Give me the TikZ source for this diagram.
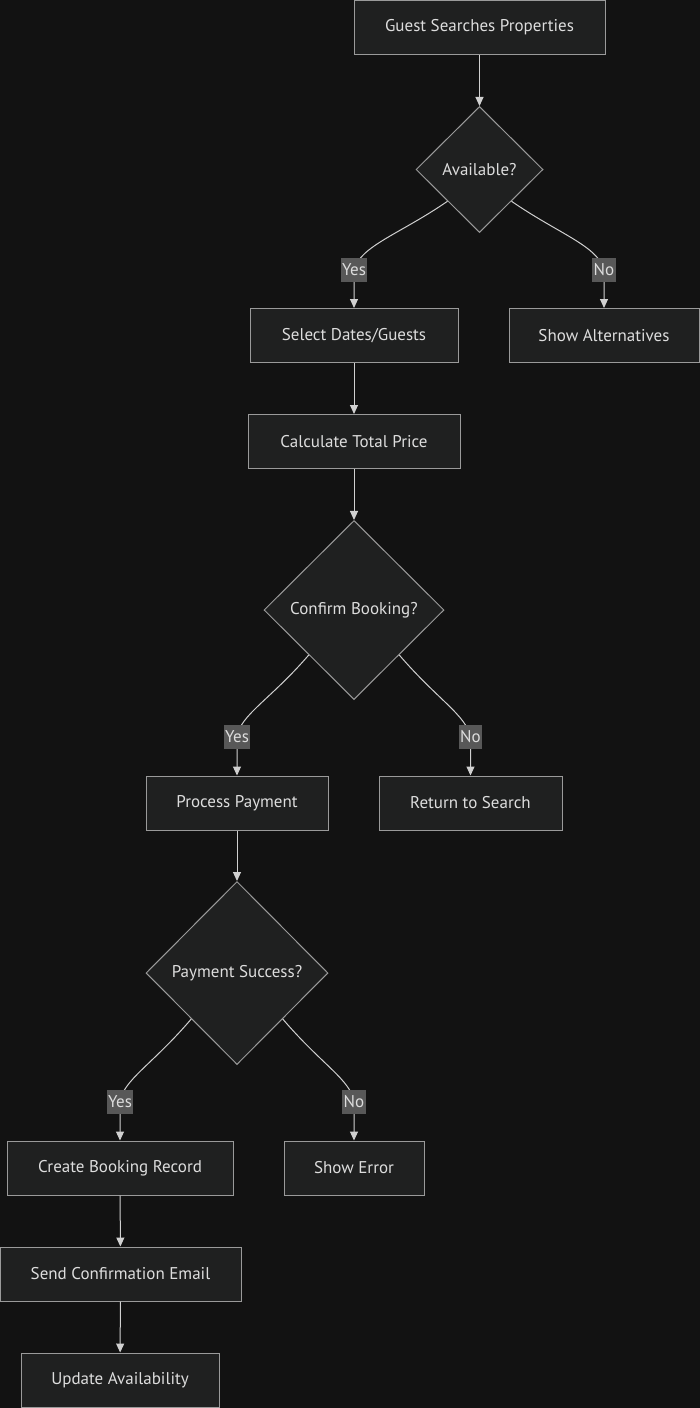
\documentclass[tikz,border=0pt]{standalone}
\usepackage{fontspec}
\setmainfont{PT Sans}
\usetikzlibrary{shapes.geometric,arrows.meta}
\definecolor{bg}{HTML}{121212}
\definecolor{nodefill}{HTML}{1F2020}
\definecolor{nodeborder}{HTML}{9A9A9A}
\definecolor{txt}{HTML}{DDDDDD}
\definecolor{edgec}{HTML}{D0D0D0}
\definecolor{lblbg}{HTML}{585858}
\tikzset{
  box/.style={draw=nodeborder, fill=nodefill, line width=1pt, inner sep=0pt, text=txt,
    font=\fontsize{17}{19}\selectfont, minimum height=54pt},
  dia/.style={diamond, draw=nodeborder, fill=nodefill, line width=1pt, inner sep=0pt, text=txt,
    font=\fontsize{17}{19}\selectfont},
  lbl/.style={fill=lblbg, text=txt, inner sep=1.5pt, font=\fontsize{17}{19}\selectfont,
    minimum height=24pt},
  edge/.style={draw=edgec, line width=1pt, -{Triangle[length=9pt,width=8pt]}},
}
\begin{document}
\begin{tikzpicture}[x=1pt,y=-1pt]
\fill[bg] (0,0) rectangle (700,1408);
\useasboundingbox (0,0) rectangle (700,1408);

\node[box, minimum width=251pt] (A) at (479.5,27.5) {Guest Searches Properties};
\node[dia, minimum width=127pt, minimum height=126pt] (B) at (479.5,169.5) {Available?};
\node[box, minimum width=208pt] (C) at (354,335.5) {Select Dates/Guests};
\node[box, minimum width=190pt] (D) at (604,335.5) {Show Alternatives};
\node[box, minimum width=212pt] (E) at (354,441.5) {Calculate Total Price};
\node[dia, minimum width=180pt, minimum height=179pt] (F) at (354,610) {Confirm Booking?};
\node[box, minimum width=182pt] (G) at (237,803) {Process Payment};
\node[box, minimum width=183pt] (H) at (470.5,803) {Return to Search};
\node[dia, minimum width=182pt, minimum height=183pt] (I) at (237,973) {Payment Success?};
\node[box, minimum width=226pt] (J) at (120,1168) {Create Booking Record};
\node[box, minimum width=140pt] (K) at (354,1168) {Show Error};
\node[box, minimum width=241pt] (L) at (120.5,1274) {Send Confirmation Email};
\node[box, minimum width=198pt] (M) at (120,1380) {Update Availability};

\coordinate (y1) at (354,270);
\coordinate (n1) at (604,270);
\coordinate (y2) at (237,737);
\coordinate (n2) at (470.5,737);
\coordinate (y3) at (120,1102);
\coordinate (n3) at (354,1102);

\draw[edge] (A) -- (B);
\draw[edge] (B.south west) .. controls (400,234) and (360,246) .. (y1) -- (C);
\draw[edge] (B.south east) .. controls (559,234) and (598,246) .. (n1) -- (D);
\draw[edge] (C) -- (E);
\draw[edge] (E) -- (F);
\draw[edge] (F.south west) .. controls (270,700) and (240,715) .. (y2) -- (G);
\draw[edge] (F.south east) .. controls (438,700) and (466,715) .. (n2) -- (H);
\draw[edge] (G) -- (I);
\draw[edge] (I.south west) .. controls (152,1065) and (123,1080) .. (y3) -- (J);
\draw[edge] (I.south east) .. controls (322,1065) and (351,1080) .. (n3) -- (K);
\draw[edge] (J) -- (L);
\draw[edge] (L) -- (M);

\node[lbl] (ly1) at (y1) {Yes};
\node[lbl] (ln1) at (n1) {No};
\node[lbl] (ly2) at (y2) {Yes};
\node[lbl] (ln2) at (n2) {No};
\node[lbl] (ly3) at (y3) {Yes};
\node[lbl] (ln3) at (n3) {No};
\end{tikzpicture}
\end{document}
